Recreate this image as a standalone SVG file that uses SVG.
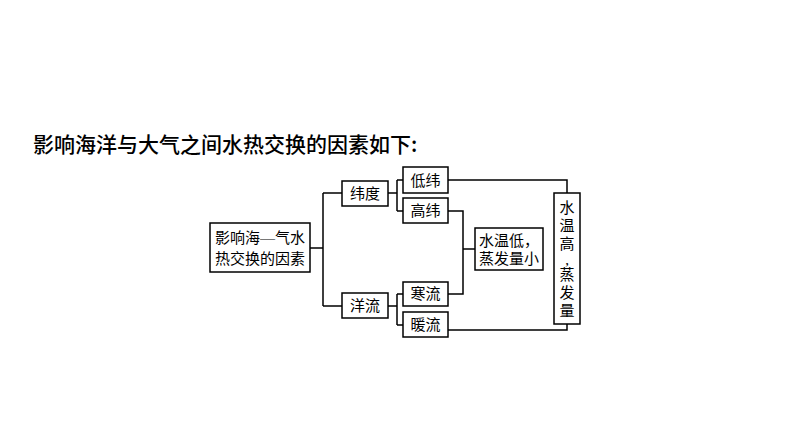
<svg xmlns="http://www.w3.org/2000/svg" width="794" height="447" viewBox="0 0 794 447">
<style>
.b{fill:#fff;stroke:#000;stroke-width:1.5}
.t{font-family:"Liberation Serif","Noto Sans CJK SC",serif;font-size:15px;fill:#000}
.c{fill:none;stroke:#000;stroke-width:1.5}
</style>
<rect width="794" height="447" fill="#fff"/>
<text x="33" y="152" style="font-family:'Noto Sans CJK SC',sans-serif;font-size:21px;font-weight:500">影响海洋与大气之间水热交换的因素如下:</text>
<g id="connectors" class="c">
<path d="M310 248H323M323 193V306M323 193H342M323 306H342"/>
<path d="M388 193H397M397 180V211M397 180H403M397 211H403"/>
<path d="M388 306H397M397 294V325M397 294H403M397 325H403"/>
<path d="M448 211H463V294H448M463 249H475"/>
<path d="M448 180H567V193M448 330H567V324"/>
</g>
<g id="main"><rect class="b" x="210" y="223" width="100" height="49"/><text class="t" x="260" y="243" text-anchor="middle">影响海—气水</text><text class="t" x="260" y="264" text-anchor="middle">热交换的因素</text></g>
<g id="weidu"><rect class="b" x="342" y="181" width="46" height="25"/><text class="t" x="365" y="199" text-anchor="middle">纬度</text></g>
<g id="yangliu"><rect class="b" x="342" y="293" width="46" height="25"/><text class="t" x="365" y="311" text-anchor="middle">洋流</text></g>
<g id="diwei"><rect class="b" x="403" y="167" width="45" height="26"/><text class="t" x="425.5" y="186" text-anchor="middle">低纬</text></g>
<g id="gaowei"><rect class="b" x="403" y="198" width="45" height="25"/><text class="t" x="425.5" y="216" text-anchor="middle">高纬</text></g>
<g id="hanliu"><rect class="b" x="403" y="282" width="45" height="24"/><text class="t" x="425.5" y="299" text-anchor="middle">寒流</text></g>
<g id="nuanliu"><rect class="b" x="403" y="312" width="45" height="25"/><text class="t" x="425.5" y="330" text-anchor="middle">暖流</text></g>
<g id="low"><rect class="b" x="475" y="228" width="68" height="42"/><text class="t" x="509" y="246" text-anchor="middle">水温低，</text><text class="t" x="509" y="264" text-anchor="middle">蒸发量小</text></g>
<g id="high"><rect class="b" x="554" y="193" width="26" height="131"/>
<text class="t" x="567" text-anchor="middle"><tspan x="567" y="213">水</tspan><tspan x="567" y="231">温</tspan><tspan x="567" y="249">高</tspan><tspan x="567" y="265">,</tspan><tspan x="567" y="280">蒸</tspan><tspan x="567" y="298">发</tspan><tspan x="567" y="316">量</tspan></text>
</g>
</svg>
